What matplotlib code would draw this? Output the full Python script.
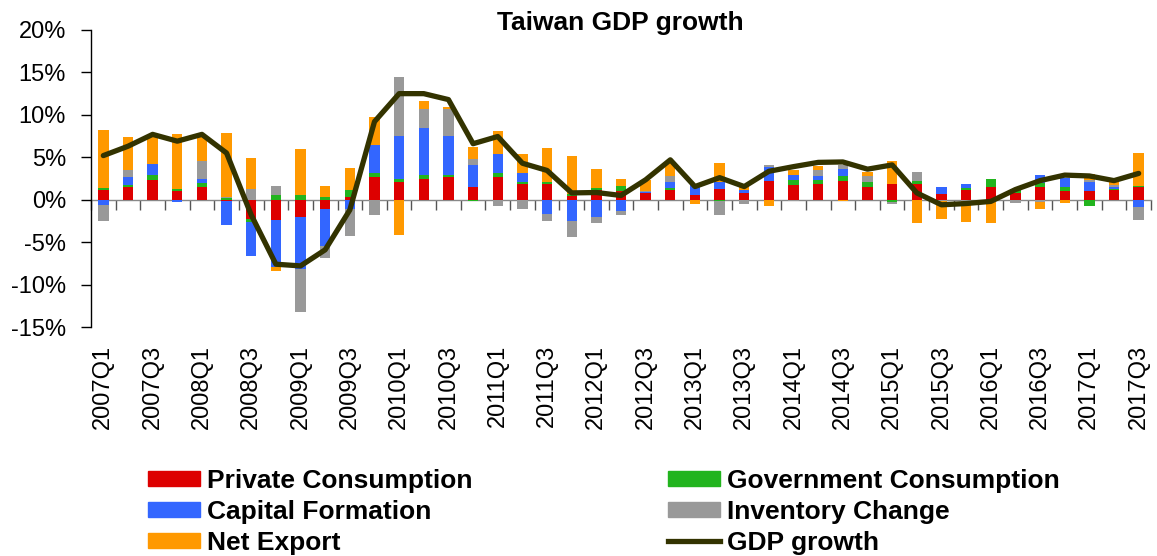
import numpy as np
import matplotlib
matplotlib.use("Agg")
import matplotlib.pyplot as plt
from matplotlib.patches import Patch
from matplotlib.lines import Line2D

plt.rcParams["font.family"] = ["Liberation Sans", "DejaVu Sans"]

# quarters 2007Q1 .. 2017Q3
quarters = [f"{y}Q{q}" for y in range(2007, 2018) for q in range(1, 5)][:43]

# contributions to growth (percentage points)
private_cons = [1.1, 1.45, 2.35, 1.0, 1.45, -0.2, -2.3, -2.35, -2.05, -1.05, 0.35,
                2.7, 2.05, 2.5, 2.65, 1.55, 2.65, 1.9, 1.85, 0.45, 1.1, 1.0,
                0.75, 1.1, 0.5, 1.3, 0.85, 2.25, 1.7, 1.9, 2.25, 1.45, 1.9,
                1.9, 0.65, 1.2, 1.55, 0.85, 1.55, 1.05, 1.0, 1.1, 1.45]
gov_cons = [0.27, 0.24, 0.6, 0.3, 0.5, 0.15, -0.3, 0.5, 0.5, 0.35, 0.75,
            0.5, 0.35, 0.4, 0.25, -0.2, 0.45, 0.15, 0.25, 0.25, 0.3, 0.6,
            0.0, 0.3, 0.0, -0.2, 0.0, 0.0, 0.6, 0.45, 0.6, 0.65, -0.3,
            0.25, 0.0, 0.2, 0.9, 0.4, 0.45, 0.45, -0.7, 0.15, 0.2]
capital_form = [-0.6, 0.94, 1.3, -0.3, 0.55, -2.8, -4.0, -5.6, -6.1, -4.4, -1.1,
                3.2, 5.05, 5.5, 4.65, 2.5, 2.3, 1.1, -1.65, -2.5, -2.05, -1.35,
                0.15, 0.65, 1.4, 0.8, 0.3, 1.6, 0.6, 0.5, 0.8, 0.0, 0.0,
                0.1, 0.8, 0.45, 0.0, 0.0, 0.9, 1.0, 1.1, 0.2, -0.85]
inventory = [-1.9, 0.86, 0.0, 0.0, 2.1, 0.2, 1.3, 1.15, -5.05, -1.4, -3.2,
             -1.8, 7.0, 2.3, 3.1, 0.75, -0.7, -1.05, -0.9, -1.9, -0.7, -0.45,
             0.15, 0.7, 0.0, -1.55, -0.45, 0.25, -0.2, 0.6, 0.45, 0.75, -0.2,
             1.0, -0.15, -0.15, 0.0, -0.4, -0.3, 0.0, 0.25, 0.3, -1.55]
net_export = [6.8, 3.9, 3.25, 6.4, 3.05, 7.55, 3.6, -0.4, 5.45, 1.3, 2.65,
              3.4, -4.1, 0.9, 0.3, 1.4, 2.7, 2.2, 4.0, 4.5, 2.25, 0.8,
              1.3, 1.55, -0.5, 2.25, 0.7, -0.7, 0.6, 0.5, -0.2, 0.45, 2.65,
              -2.75, -2.15, -2.45, -2.8, 0.0, -0.8, -0.4, 0.65, 0.3, 3.85]
gdp_growth = [5.2, 6.3, 7.7, 6.9, 7.7, 5.5, -1.8, -7.6, -7.8, -5.9, -1.2,
              9.2, 12.5, 12.5, 11.8, 6.6, 7.45, 4.3, 3.45, 0.8, 0.85, 0.5,
              2.35, 4.7, 1.55, 2.6, 1.55, 3.35, 3.9, 4.4, 4.45, 3.6, 4.1,
              0.8, -0.6, -0.45, -0.2, 1.2, 2.25, 2.9, 2.8, 2.25, 3.1]

series = [
    ("Private Consumption", private_cons, "#DD0000"),
    ("Government Consumption", gov_cons, "#22B41E"),
    ("Capital Formation", capital_form, "#3366FF"),
    ("Inventory Change", inventory, "#999999"),
    ("Net Export", net_export, "#FF9900"),
]
line_color = "#333300"

fig = plt.figure(figsize=(11.57, 5.56), dpi=100)
ax = fig.add_axes([91 / 1157, 1 - 327 / 556, 1060 / 1157, 297 / 556])

x = np.arange(len(quarters))
pos_bottom = np.zeros(len(x))
neg_bottom = np.zeros(len(x))
for name, vals, color in series:
    v = np.array(vals)
    bottom = np.where(v >= 0, pos_bottom, neg_bottom)
    ax.bar(x, v, width=0.42, bottom=bottom, color=color, linewidth=0, zorder=2)
    pos_bottom += np.where(v >= 0, v, 0)
    neg_bottom += np.where(v < 0, v, 0)

ax.plot(x, gdp_growth, color=line_color, linewidth=3.8, zorder=4,
        solid_joinstyle="round", solid_capstyle="round")

ax.set_xlim(-0.5, len(x) - 0.5)
ax.set_ylim(-15, 20)
ax.set_yticks(range(-15, 21, 5))
ax.set_yticklabels([f"{t}%" for t in range(-15, 21, 5)])
ax.tick_params(axis="y", direction="out", length=7, width=1, pad=11,
               labelsize=17)

ax.set_xticks(x[::2])
ax.set_xticklabels(quarters[::2], rotation=90, va="top")
ax.tick_params(axis="x", length=0, pad=13, labelsize=17)

for s in ["top", "right", "bottom"]:
    ax.spines[s].set_visible(False)
ax.spines["left"].set_linewidth(1)

# category axis crossing at zero
sec = ax.secondary_xaxis(0, transform=ax.transData)
sec.set_xticks(np.arange(len(x) + 1) - 0.5)
sec.set_xticklabels([])
sec.tick_params(axis="x", direction="out", length=7, width=1, color="#555555")
sec.spines["bottom"].set_color("#888888")
sec.spines["bottom"].set_linewidth(1)

fig.text(620 / 1157, 1 - 30 / 556, "Taiwan GDP growth", ha="center",
         va="baseline", fontsize=19, fontweight="bold")

handles = [Patch(color=c, label=n) for n, _, c in series]
h_left = [handles[0], handles[2], handles[4]]
h_right = [handles[1], handles[3],
           Line2D([], [], color=line_color, linewidth=3.8, label="GDP growth")]

leg_kw = dict(frameon=False, prop={"weight": "bold", "size": 19},
              handlelength=1.97, handleheight=0.5, handletextpad=0.27,
              labelspacing=0.26, borderpad=0, borderaxespad=0,
              loc="upper left")
leg1 = fig.legend(handles=h_left, bbox_to_anchor=(148 / 1157, 1 - 469 / 556),
                  **leg_kw)
leg2 = fig.legend(handles=h_right, bbox_to_anchor=(668 / 1157, 1 - 469 / 556),
                  **leg_kw)

fig.savefig("out.png", dpi=100)
plt.close()
